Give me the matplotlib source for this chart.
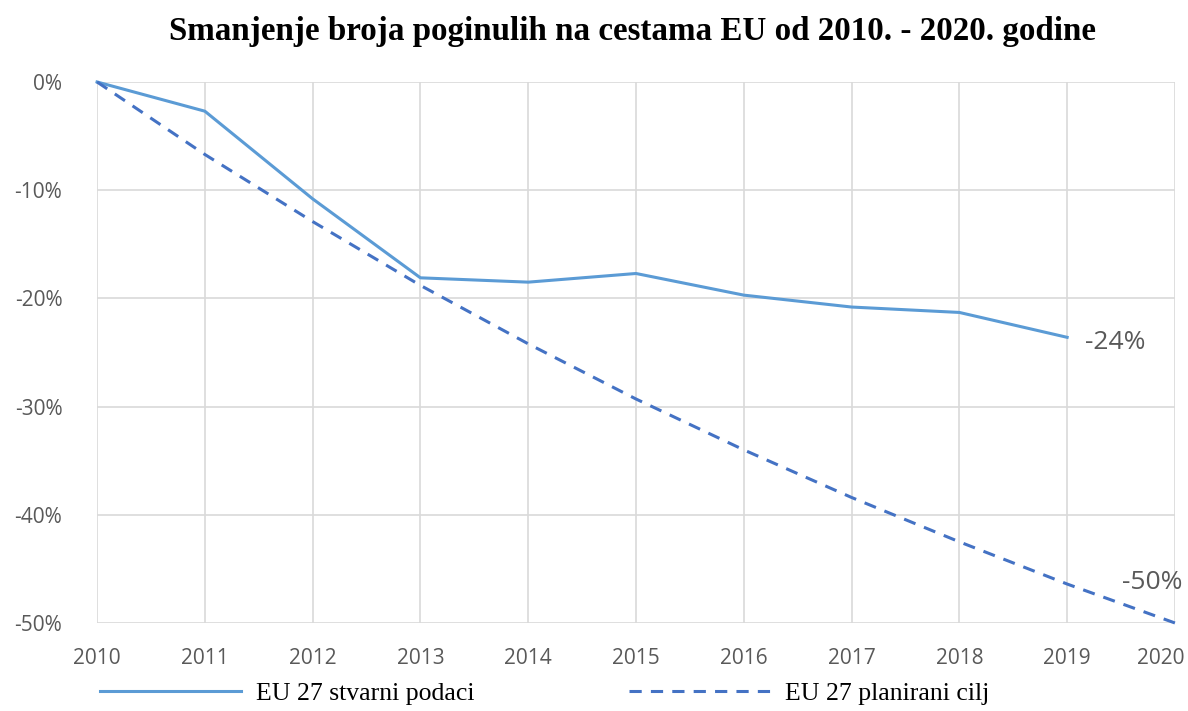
import matplotlib.pyplot as plt
from matplotlib.transforms import ScaledTranslation

years = [2010, 2011, 2012, 2013, 2014, 2015, 2016, 2017, 2018, 2019, 2020]
actual_years = years[:-1]
actual = [0, -2.7, -10.8, -18.1, -18.5, -17.7, -19.7, -20.8, -21.3, -23.6]
target = [0, -6.7, -12.9, -18.8, -24.2, -29.3, -34.0, -38.4, -42.5, -46.4, -50.0]
yticks = [0, -10, -20, -30, -40, -50]

grey = '#595959'

fig = plt.figure(figsize=(11.88, 7.11), dpi=100)
ax = fig.add_axes([0.0817, 0.1238, 0.9073, 0.7609])

solid, = ax.plot(actual_years, actual, color='#5B9BD5', lw=2.2,
                 clip_on=False, label='EU 27 stvarni podaci')
dashed, = ax.plot(years, target, color='#4472C4', lw=2.2, ls=(0, (4, 3)),
                  clip_on=False, label='EU 27 planirani cilj')

ax.set_xlim(2010, 2020)
ax.set_ylim(-50, 0)
ax.set_xticks(years)
ax.set_yticks(yticks)
ax.set_yticklabels([f'{v}%' for v in yticks])
ax.tick_params(length=0, labelsize=15, labelcolor=grey)
ax.tick_params(axis='x', pad=18)
ax.tick_params(axis='y', pad=25)
for lab in ax.get_xticklabels() + ax.get_yticklabels():
    lab.set_family('Open Sans')
# last year label sits a bit inside the figure edge
last = ax.get_xticklabels()[-1]
last.set_transform(last.get_transform() + ScaledTranslation(-0.14, 0, fig.dpi_scale_trans))
ax.grid(True, color='#D9D9D9', lw=1.2)
ax.set_axisbelow(True)
for s in ax.spines.values():
    s.set_visible(False)

ax.annotate('-24%', xy=(actual_years[-1], actual[-1]), xytext=(13, -4),
            textcoords='offset points', ha='left', va='center',
            fontsize=19, color=grey, family='Open Sans')
ax.annotate('-50%', xy=(years[-1], target[-1]), xytext=(-38, 29.5),
            textcoords='offset points', ha='left', va='center',
            fontsize=19, color=grey, family='Open Sans', annotation_clip=False)

fig.suptitle('Smanjenje broja poginulih na cestama EU od 2010. - 2020. godine',
             x=0.532, y=0.978, fontsize=23.8, fontweight='bold',
             family='Liberation Serif')

fig.legend(handles=[solid, dashed], loc='center left', ncol=2,
           bbox_to_anchor=(0.0842, 0.025), frameon=False, handlelength=5.5,
           columnspacing=6.0, handletextpad=0.58, borderpad=0, borderaxespad=0,
           prop={'family': 'Liberation Serif', 'size': 18.5})

fig.savefig('out.png', dpi=100)
